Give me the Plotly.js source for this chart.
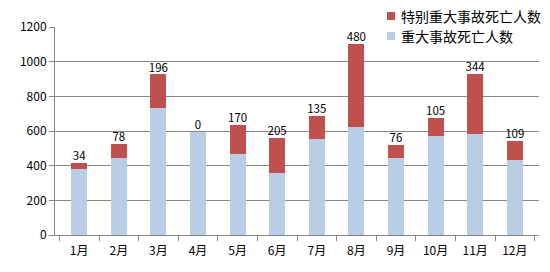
<!DOCTYPE html>
<html><head><meta charset="utf-8">
<script src="https://cdn.plot.ly/plotly-3.0.1.min.js"></script>
<style>html,body{margin:0;padding:0;background:#fff}#chart{width:550px;height:272px}</style>
</head><body><div id="chart"></div>
<script>
const months = ['1月','2月','3月','4月','5月','6月','7月','8月','9月','10月','11月','12月'];
const majorDeaths = [380, 445, 730, 597, 465, 355, 553, 624, 443, 570, 585, 432];
const severeDeaths = [34, 78, 196, 0, 170, 205, 135, 480, 76, 105, 344, 109];
const seriesNames = ['重大事故死亡人数', '特别重大事故死亡人数'];
const seriesColors = ['#B9CDE5', '#C0504D'];
const yTicks = [0, 200, 400, 600, 800, 1000, 1200];

const font = "'Noto Sans CJK SC', 'Liberation Sans', sans-serif";
const W = 550, H = 272, M = {l:55, r:11, t:27, b:37};
const pw = W - M.l - M.r, ph = H - M.t - M.b;
const px = x => (x - M.l) / pw;
const py = y => (H - M.b - y) / ph;
const totals = majorDeaths.map((v, i) => v + severeDeaths[i]);

const data = [
  {type:'bar', name: seriesNames[0], x: months, y: majorDeaths, marker:{color:seriesColors[0]}, width:0.4, hoverinfo:'none'},
  {type:'bar', name: seriesNames[1], x: months, y: severeDeaths, marker:{color:seriesColors[1]}, width:0.4, hoverinfo:'none'},
  {type:'scatter', mode:'text', x: months, y: totals, text: severeDeaths.map(String), textposition:'top center',
   textfont:{size:11.5, color:'#000', family:font}, showlegend:false, cliponaxis:false, hoverinfo:'none'}
];

const legendOrder = [1, 0];
const shapes = [], annotations = [];
legendOrder.forEach((si, k) => {
  const cy = 16 + k * 20;
  shapes.push({type:'rect', xref:'paper', yref:'paper', x0:px(387), x1:px(395), y0:py(cy+4), y1:py(cy-4),
               fillcolor:seriesColors[si], line:{width:0}, layer:'above'});
  annotations.push({xref:'paper', yref:'paper', x:px(399), y:py(cy), xanchor:'left', yanchor:'middle',
                    text:seriesNames[si], showarrow:false, font:{size:14, family:font, color:'#000'}});
});

const layout = {
  width:W, height:H, barmode:'stack',
  margin:M,
  paper_bgcolor:'#fff', plot_bgcolor:'#fff',
  font:{family:font, size:12, color:'#000'},
  showlegend:false,
  shapes, annotations,
  xaxis:{type:'category', showline:true, linecolor:'#868686', linewidth:1,
         ticks:'outside', ticklen:5, tickcolor:'#868686', tickson:'boundaries', ticklabelstandoff:5,
         tickfont:{size:12, family:font}, showgrid:false, zeroline:false, tickangle:0},
  yaxis:{range:[0,1200], tickvals:yTicks, showline:true, linecolor:'#868686', linewidth:1,
         ticks:'outside', ticklen:5, tickcolor:'#868686', showgrid:true, gridcolor:'#868686', gridwidth:1,
         zeroline:false, tickfont:{size:12, family:font}},
  bargap:0.6
};
Plotly.newPlot('chart', data, layout, {displayModeBar:false, staticPlot:true});
</script></body></html>
